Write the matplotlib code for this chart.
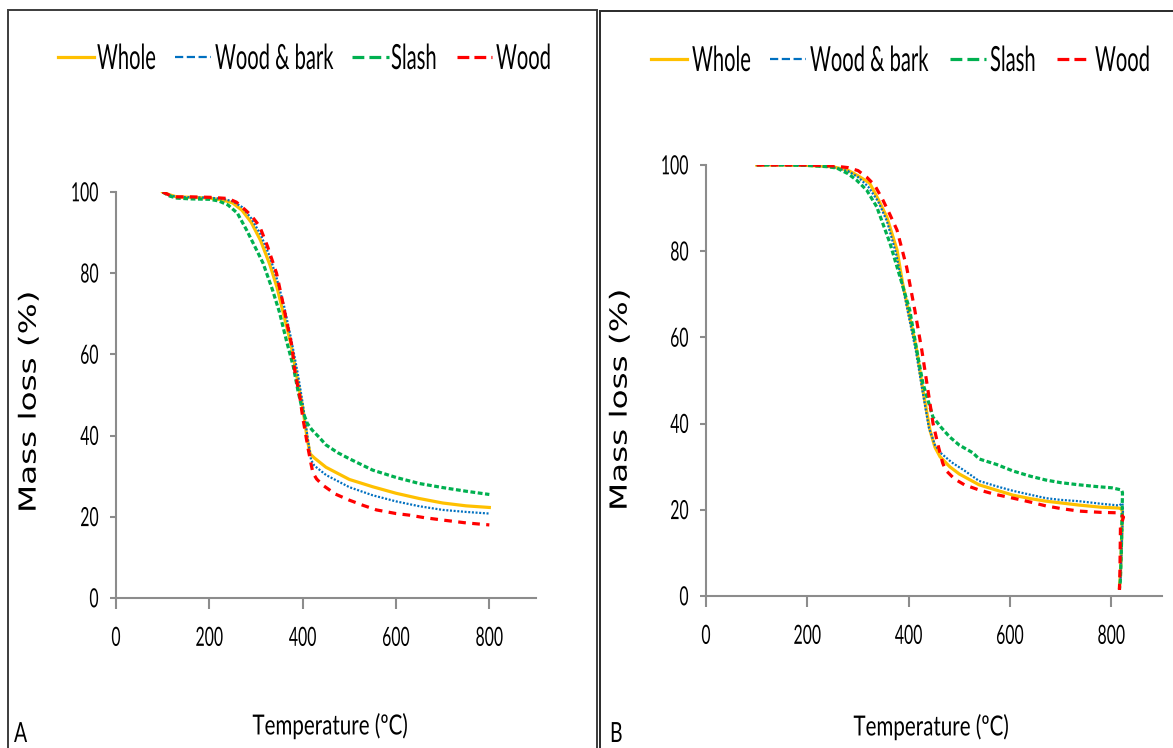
import matplotlib
matplotlib.use("Agg")
import matplotlib.pyplot as plt
from matplotlib.patches import Rectangle
from matplotlib.lines import Line2D
from matplotlib.patheffects import AbstractPathEffect
from matplotlib.transforms import Affine2D

# ---- data: thermogravimetric curves, temperature (ºC) vs mass (%) ----
series_names = ["Whole", "Wood & bark", "Slash", "Wood"]

# Panel A
a_whole_t = [100, 115, 130, 160, 200, 230, 250, 270, 290, 310, 330, 345, 360, 375, 390,
             400, 410, 416, 425, 450, 500, 550, 600, 650, 700, 750, 800]
a_whole_m = [100, 99.3, 98.8, 98.7, 98.5, 98.0, 97.3, 95.5, 92.5, 88, 82, 76.5, 69.5, 62.5, 53,
             47, 39, 35.5, 34.5, 32.2, 29.2, 27.4, 25.8, 24.5, 23.4, 22.7, 22.3]

a_bark_t = [100, 115, 130, 160, 200, 230, 250, 270, 290, 310, 330, 345, 360, 375, 390,
            400, 410, 418, 425, 450, 500, 550, 600, 650, 700, 750, 800]
a_bark_m = [100, 99.2, 98.8, 98.7, 98.6, 98.3, 97.7, 96.3, 93.5, 89.5, 84, 78.5, 72, 64, 55,
            48, 40, 34, 32.6, 30.3, 27.3, 25.3, 23.8, 22.6, 21.7, 21.2, 20.8]

a_slash_t = [100, 115, 130, 160, 200, 220, 240, 260, 280, 300, 315, 335, 350, 365, 380,
             390, 400, 410, 420, 436, 450, 475, 500, 550, 600, 650, 700, 750, 800]
a_slash_m = [100, 99, 98.5, 98.3, 98.2, 97.8, 96.8, 94.8, 90.6, 86, 82.5, 76, 70.5, 63.5, 57,
             51, 46, 43, 41.4, 39.5, 37.7, 35.8, 34.3, 31.5, 29.7, 28.2, 27.2, 26.3, 25.5]

a_wood_t = [100, 115, 130, 160, 200, 240, 258, 275, 290, 308, 325, 344, 355, 365, 377, 383,
            394, 400, 411, 418, 422, 430, 443, 470, 500, 530, 558, 600, 629, 660, 700, 750, 800]
a_wood_m = [100, 99.2, 98.8, 98.8, 98.7, 98.4, 97.5, 95.8, 94.2, 91.5, 86.5, 80, 74.1, 68.5, 62, 56,
            49.5, 44.6, 37.2, 33, 30.8, 29.3, 27.8, 25.6, 24.1, 22.8, 21.7, 20.8, 20.4, 19.8, 19.2, 18.5, 18]

# Panel B
b_whole_t = [100, 150, 200, 250, 280, 300, 323, 340, 357, 377, 388, 402, 416, 428, 442, 452, 462,
             481, 500, 539, 575, 606, 640, 671, 700, 736, 780, 815, 820, 822, 820, 818, 816]
b_whole_m = [100, 100, 99.9, 99.6, 98.8, 97.5, 95.8, 92, 87.9, 80.3, 72.6, 64.7, 57, 47.8, 38.5, 34.5, 32.3,
             30, 28.3, 25.8, 24.5, 23.4, 22.6, 22, 21.6, 21.1, 20.6, 20.4, 20.2, 19.5, 12, 5, 2]

b_bark_t = [100, 150, 200, 250, 280, 300, 320, 340, 357, 375, 388, 400, 414, 426, 440, 452, 465,
            485, 510, 539, 575, 606, 640, 671, 700, 736, 780, 815, 822, 823, 820, 818]
b_bark_m = [100, 100, 99.9, 99.5, 98.6, 97.2, 95, 91.5, 87, 79.5, 72, 65, 57, 48.5, 39, 35, 33,
            31, 29.1, 26.7, 25.4, 24.4, 23.5, 22.7, 22.3, 22, 21.4, 21, 21.5, 20, 10, 3]

b_slash_t = [100, 150, 200, 240, 258, 280, 297, 317, 337, 363, 383, 402, 416, 428, 448, 465, 481,
             500, 527, 539, 574, 606, 640, 671, 700, 736, 770, 801, 820, 822, 820, 818, 816]
b_slash_m = [100, 100, 99.9, 99.6, 99.3, 98, 96.5, 94.2, 90.3, 81.9, 74, 66.4, 57, 49.4, 41.5, 39, 36.9,
             35, 33.2, 31.8, 30.5, 29, 27.8, 26.9, 26.3, 25.8, 25.4, 25.1, 24.6, 24, 12, 4, 1.5]

b_wood_t = [100, 150, 200, 250, 280, 300, 317, 333, 349, 363, 377, 396, 412, 426, 438, 448, 458,
            467, 473, 490, 510, 539, 570, 606, 640, 671, 700, 736, 780, 815, 824, 818, 817, 816]
b_wood_m = [100, 100, 100, 99.8, 99.4, 98.7, 97.2, 95.3, 91.9, 88.5, 84.9, 76.3, 66.4, 57, 47.8, 40.1, 35,
            30.9, 29.2, 27.2, 25.8, 24.6, 23.6, 22.7, 21.8, 20.9, 20.3, 19.7, 19.4, 19.3, 18.3, 16, 6, 1.4]

x_ticks = [0, 200, 400, 600, 800]
y_ticks = [0, 20, 40, 60, 80, 100]

# ---- styles ----
styles = {
    "Whole": dict(color="#FFC000", lw=2.3, ls="-"),
    "Wood & bark": dict(color="#0070C0", lw=1.6, ls=(0, (0.9, 0.75))),
    "Slash": dict(color="#00B050", lw=2.3, ls=(0, (1.5, 0.8))),
    "Wood": dict(color="#FF0000", lw=2.3, ls=(0, (2.4, 2.0))),
}

plt.rcParams["font.family"] = ["Lato", "Liberation Sans", "DejaVu Sans"]
AXIS_GREY = "#8c8c8c"


class Tall(AbstractPathEffect):
    """Draw glyphs stretched (or flattened) along the text's own y direction."""

    def __init__(self, sy, anchor="baseline"):
        super().__init__()
        self.sy, self.anchor = sy, anchor

    def draw_path(self, renderer, gc, tpath, affine, rgbFace=None):
        ext = tpath.get_extents()
        if self.anchor == "baseline":
            cy = 0.0
        elif self.anchor == "top":
            cy = ext.y1
        else:
            cy = 0.5 * (ext.y0 + ext.y1)
        pre = Affine2D().translate(0, -cy).scale(1.0, self.sy).translate(0, cy)
        renderer.draw_path(gc, tpath, pre + affine, rgbFace)


W, H = 1173, 748
fig = plt.figure(figsize=(W / 100, H / 100), dpi=100)


def fx(px):
    return px / W


def fy(py):
    return 1 - py / H


def panel(rect, curves, legend_items, legend_y, ylabel_xy, xlabel_xy, letter_xy, letter):
    ax = fig.add_axes(rect)
    lines = []
    for name, (t, m) in zip(series_names, curves):
        st = styles[name]
        ln, = ax.plot(t, m, color=st["color"], lw=st["lw"], ls=st["ls"], label=name,
                      solid_joinstyle="round")
        lines.append(ln)
    ax.set_xlim(0, 900)
    ax.set_ylim(0, 100)
    ax.set_xticks(x_ticks)
    ax.set_yticks(y_ticks)
    for s in ("top", "right"):
        ax.spines[s].set_visible(False)
    for s in ("left", "bottom"):
        ax.spines[s].set_color(AXIS_GREY)
        ax.spines[s].set_linewidth(1.5)
    ax.tick_params(axis="y", direction="out", length=4.5, width=1.5, color=AXIS_GREY,
                   pad=8, labelsize=11.4)
    ax.tick_params(axis="x", direction="out", length=8, width=1.5, color=AXIS_GREY,
                   pad=13, labelsize=11.4)
    for lbl in ax.get_xticklabels():
        lbl.set_path_effects([Tall(1.67, "top")])
    for lbl in ax.get_yticklabels():
        lbl.set_path_effects([Tall(1.67, "center")])
    ax.patch.set_alpha(0)

    # legend row: sample line followed by its name
    for ln, (x0, x1, xt) in zip(lines, legend_items):
        fig.add_artist(Line2D([fx(x0), fx(x1)], [fy(legend_y), fy(legend_y)],
                              color=ln.get_color(), lw=ln.get_linewidth(),
                              ls=ln.get_linestyle(), transform=fig.transFigure))
        fig.text(fx(xt), fy(legend_y + 12), ln.get_label(), ha="left", va="baseline",
                 fontsize=14.5, path_effects=[Tall(1.72, "baseline")])

    fig.text(fx(ylabel_xy[0]), fy(ylabel_xy[1]), "Mass loss (%)", rotation=90,
             ha="center", va="center", fontsize=23.5, family="DejaVu Sans",
             path_effects=[Tall(0.72, "center")])
    fig.text(fx(xlabel_xy[0]), fy(xlabel_xy[1]), "Temperature (ºC)", ha="center",
             va="center", fontsize=14.8, path_effects=[Tall(1.35, "center")])
    fig.text(fx(letter_xy[0]), fy(letter_xy[1]), letter, ha="left", va="baseline",
             fontsize=14, path_effects=[Tall(1.43, "baseline")])
    return ax


rect_a = [fx(116), fy(598), fx(536) - fx(116), fy(192) - fy(598)]
rect_b = [fx(706), fy(596), fx(1162) - fx(706), fy(165) - fy(596)]

panel(rect_a,
      [(a_whole_t, a_whole_m), (a_bark_t, a_bark_m), (a_slash_t, a_slash_m), (a_wood_t, a_wood_m)],
      legend_items=[(58, 94, 97), (175, 211, 215), (352, 389, 391), (457, 492, 496)],
      legend_y=57, ylabel_xy=(29, 402), xlabel_xy=(330, 726), letter_xy=(14, 742), letter="A")
panel(rect_b,
      [(b_whole_t, b_whole_m), (b_bark_t, b_bark_m), (b_slash_t, b_slash_m), (b_wood_t, b_wood_m)],
      legend_items=[(651, 687, 692), (770, 806, 810), (950, 986, 990), (1057, 1090, 1095)],
      legend_y=59, ylabel_xy=(620, 400), xlabel_xy=(931, 727), letter_xy=(610, 742), letter="B")

# panel frames
fig.add_artist(Rectangle((fx(8), -0.1), fx(597) - fx(8), fy(10) + 0.1, fill=False,
                         edgecolor="#3c3c3c", lw=1.4, transform=fig.transFigure))
fig.add_artist(Rectangle((fx(600), -0.1), 0.5, fy(11) + 0.1, fill=False,
                         edgecolor="#2a2a2a", lw=1.4, transform=fig.transFigure))

fig.savefig("out.png", dpi=100, facecolor="white")
